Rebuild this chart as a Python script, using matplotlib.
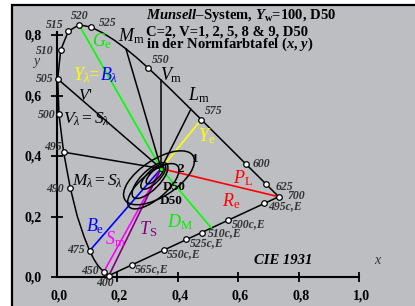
import matplotlib.pyplot as plt
from matplotlib.patches import Ellipse, Rectangle

plt.rcParams['mathtext.fontset'] = 'custom'
plt.rcParams['mathtext.rm'] = 'Liberation Serif'
plt.rcParams['mathtext.it'] = 'Liberation Serif:italic'
plt.rcParams['mathtext.bf'] = 'Liberation Serif:bold'
plt.rcParams['mathtext.bfit'] = 'Liberation Serif:italic:bold'
SERIF = 'Liberation Serif'

# spectral locus CIE 1931 (x, y)
locus_x = [0.1733, 0.1726, 0.1714, 0.1689, 0.1644, 0.1566, 0.1510, 0.1440, 0.1355,
           0.1241, 0.1096, 0.0913, 0.0687, 0.0454, 0.0235, 0.0082, 0.0039, 0.0139,
           0.0389, 0.0743, 0.1142, 0.1547, 0.1929, 0.2296, 0.2658, 0.3016, 0.3373,
           0.3731, 0.4087, 0.4441, 0.4788, 0.5125, 0.5448, 0.5752, 0.6029, 0.6270,
           0.6658, 0.6915, 0.7079, 0.7190, 0.7260, 0.7347]
locus_y = [0.0048, 0.0048, 0.0051, 0.0069, 0.0109, 0.0177, 0.0227, 0.0297, 0.0399,
           0.0578, 0.0868, 0.1327, 0.2007, 0.2950, 0.4127, 0.5384, 0.6548, 0.7502,
           0.8120, 0.8338, 0.8262, 0.8059, 0.7816, 0.7543, 0.7243, 0.6923, 0.6589,
           0.6245, 0.5896, 0.5547, 0.5202, 0.4866, 0.4544, 0.4242, 0.3965, 0.3725,
           0.3340, 0.3083, 0.2920, 0.2809, 0.2740, 0.2653]

# marked wavelengths
mark_nm = ['400', '450', '475', '490', '495', '500', '505', '510', '515', '520',
           '525', '550', '575', '600', '625', '700']
mark_x = [0.1733, 0.1566, 0.1096, 0.0454, 0.0235, 0.0082, 0.0039, 0.0139, 0.0389,
          0.0743, 0.1142, 0.3016, 0.4788, 0.6270, 0.6915, 0.7347]
mark_y = [0.0048, 0.0177, 0.0868, 0.2950, 0.4127, 0.5384, 0.6548, 0.7502, 0.8120,
          0.8338, 0.8262, 0.6923, 0.5202, 0.3725, 0.3083, 0.2653]

# compensative wavelengths on the purple line
comp_lab = ['565c,E', '550c,E', '525c,E', '510c,E', '500c,E', '495c,E']
comp_x = [0.249, 0.354, 0.427, 0.480, 0.568, 0.687]
comp_y = [0.040, 0.089, 0.125, 0.146, 0.188, 0.244]

d50_x, d50_y = 0.3457, 0.3585

# lines from D50
ray_x = [0.0039, 0.0235, 0.2296, 0.3457, 0.4441, 0.0743, 0.511, 0.4788, 0.1096,
         0.1566, 0.1733, 0.7347]
ray_y = [0.6548, 0.4127, 0.7543, 0.6508, 0.5547, 0.8338, 0.163, 0.5202, 0.0868,
         0.0177, 0.0048, 0.2653]
ray_col = ['k', 'k', 'k', 'k', 'k', '#00ff00', '#00ff00', '#ffff00', '#0000ff',
           '#ff00ff', '#800080', '#ff0000']

# Munsell C=2 loops, V=1, 2, 5, 8, 9
ell_cx = [0.3388, 0.3200, 0.3091, 0.3200, 0.3256]
ell_cy = [0.3280, 0.3000, 0.3190, 0.3316, 0.3372]
ell_w = [0.268, 0.210, 0.156, 0.109, 0.078]
ell_h = [0.122, 0.085, 0.062, 0.042, 0.028]
ell_a = [33, 40, 45, 45, 45]

fig = plt.figure(figsize=(4.15, 3.06), dpi=100)
ax = fig.add_axes([0, 0, 1, 1])
ax.set_xlim(-56.5 / 302.5, (415 - 56.5) / 302.5)
ax.set_ylim(-(306 - 277) / 302.5, 277 / 302.5)
ax.axis('off')


def P(xp, yp):
    return (xp - 56.5) / 302.5, (277 - yp) / 302.5


ax.add_patch(Rectangle((12 / 415, -0.1), 1.2, 1.1 - 5 / 306, transform=fig.transFigure,
                       fc='#bdbec2', ec='black', lw=1.6, zorder=0, clip_on=False))

# axes
ax.plot([0, 1], [0, 0], color='k', lw=1.5, zorder=2)
ax.plot([0, 0], [0, 0.81], color='k', lw=1.5, zorder=2)
xt = [0.0, 0.2, 0.4, 0.6, 0.8, 1.0]
yt = [0.0, 0.2, 0.4, 0.6, 0.8]
ax.plot(xt[1:], [0] * 5, ls='none', marker='|', ms=7, mew=1.3, color='k')
ax.plot([0] * 5, yt, ls='none', marker='_', ms=8, mew=1.3, color='k')
for v in xt:
    ax.text(v + 0.008, P(0, 296)[1], f'{v:.1f}'.replace('.', ','), ha='center', va='center',
            family=SERIF, weight='bold', fontsize=10)
for v in yt:
    ax.text(P(42, 0)[0], v - 0.005, f'{v:.1f}'.replace('.', ','), ha='right', va='center',
            family=SERIF, weight='bold', fontsize=10)

# locus and purple line
ax.plot(locus_x, locus_y, color='k', lw=1.1, zorder=3)
ax.plot([locus_x[0], locus_x[-1]], [locus_y[0], locus_y[-1]], color='k', lw=1.1, zorder=3)

for ex, ey, c in zip(ray_x, ray_y, ray_col):
    ax.plot([d50_x, ex], [d50_y, ey], color=c, lw=1.2 if c != 'k' else 1.1, zorder=4)

for cx, cy, w, h, a in zip(ell_cx, ell_cy, ell_w, ell_h, ell_a):
    ax.add_patch(Ellipse((cx, cy), w, h, angle=a, fill=False, ec='k', lw=1.1, zorder=5))

ax.plot(mark_x, mark_y, ls='none', marker='o', ms=4, mfc='white', mec='k', mew=0.9, zorder=6)
ax.plot(comp_x, comp_y, ls='none', marker='o', ms=4, mfc='white', mec='k', mew=0.9, zorder=6)
ax.plot([d50_x], [d50_y], ls='none', marker='o', ms=3, mfc='#00ff00', mec='k', mew=0.6, zorder=6)

lab_pos = {'400': ('center', 105, 283.5), '450': ('right', 98.5, 270.5),
           '475': ('right', 85, 250), '490': ('right', 63.5, 188.5),
           '495': ('right', 62, 147.5), '500': ('right', 55.5, 114.5),
           '505': ('right', 53.5, 79.5), '510': ('right', 53.5, 51),
           '515': ('right', 63.5, 24.5), '520': ('center', 80, 16),
           '525': ('left', 99, 23), '550': ('left', 151.5, 60),
           '575': ('left', 205, 111.5), '600': ('left', 253, 164),
           '625': ('left', 276, 186.5), '700': ('left', 287, 196)}
lab_style = dict(family=SERIF, weight='bold', style='italic', fontsize=8.5, color='#333333', va='center')
for nm in mark_nm:
    ha, xp, yp = lab_pos[nm]
    ax.text(*P(xp, yp), nm, ha=ha, **lab_style)

comp_pos = [(135, 269), (167, 254), (190, 243), (208, 233.5), (231.5, 224.5), (268, 206.5)]
for lab, (xp, yp) in zip(comp_lab, comp_pos):
    ax.text(*P(xp, yp), lab, ha='left', **lab_style)

big = [(r'$G_\mathrm{e}$', 91.5, 46.5, '#00ee00', 13),
       (r'$M_\mathrm{m}$', 118, 41.5, 'k', 13),
       (r'$Y_\lambda$=', 72.5, 80, '#ffff00', 13),
       (r'$B_\lambda$', 100, 80, '#0000ff', 13),
       (r'$V_\mathrm{m}$', 160, 80, 'k', 13),
       (r'$L_\mathrm{m}$', 188, 100, 'k', 13),
       (r'$Y_\mathrm{e}$', 198, 141.5, '#ffff00', 13),
       (r"$V$'", 78, 100, 'k', 12),
       (r'$V_\lambda = S_\lambda$', 63, 123.5, 'k', 12.5),
       (r'$M_\lambda = S_\lambda$', 72, 185.5, 'k', 12.5),
       (r'$P_\mathrm{L}$', 233, 183, '#ff0000', 13),
       (r'$R_\mathrm{e}$', 221.5, 206, '#ff0000', 13),
       (r'$D_\mathrm{M}$', 166.5, 227, '#00ee00', 13),
       (r'$T_\mathrm{S}$', 139, 234, '#800080', 13),
       (r'$S_\mathrm{m}$', 105, 244, '#ff00ff', 13),
       (r'$B_\mathrm{e}$', 86, 231, '#0000ff', 13)]
for s, xp, yp, c, fs in big:
    ax.text(*P(xp, yp), s, ha='left', va='baseline', color=c, fontsize=fs, family=SERIF, zorder=7)

small = [('1', 195, 158.5), ('2', 180.5, 168.5), ('D50', 174, 187), ('D50', 171, 201)]
for s, xp, yp in small:
    ax.text(*P(xp, yp), s, ha='center', va='center', family=SERIF, weight='bold', fontsize=9.5, zorder=7)

ax.text(*P(283, 261), 'CIE 1931', ha='center', va='center', family=SERIF, weight='bold',
        style='italic', fontsize=10.5)
ax.text(*P(377, 261), 'x', ha='center', va='center', family=SERIF, style='italic',
        fontsize=10, color='#333333')
ax.text(*P(36, 61), 'y', ha='center', va='center', family=SERIF, style='italic',
        fontsize=10, color='#333333')

title_style = dict(family=SERIF, weight='bold', fontsize=10.5, ha='left')
ax.text(*P(146, 18.5), r'$\mathbfit{Munsell}$–System, $\mathbfit{Y}_\mathbf{w}$=100, D50',
        va='baseline', **title_style)
ax.text(*P(146, 47.5), 'C=2, V=1, 2, 5, 8 & 9, D50\n'
        r'in der Normfarbtafel ($\mathbfit{x}$, $\mathbfit{y}$)',
        va='baseline', linespacing=0.74, **title_style)

fig.savefig('out.png', dpi=100)
